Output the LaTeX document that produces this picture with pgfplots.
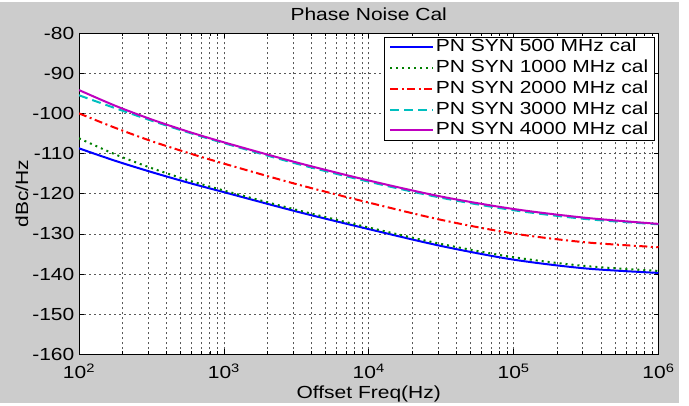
\documentclass[border=0pt]{standalone}
\usepackage{pgfplots}
\pgfplotsset{compat=1.18}
\usepackage{fontspec}
\setmainfont{Liberation Sans}[FakeStretch=1.2]
\definecolor{figgray}{gray}{0.8}
\definecolor{mgreen}{rgb}{0,0.5,0}
\definecolor{mcyan}{rgb}{0,0.75,0.75}
\definecolor{mmag}{rgb}{0.75,0,0.75}
\newcommand{\fs}{\fontsize{17.5}{20}\selectfont}
\begin{document}
\begin{tikzpicture}[font=\fs]
\path[use as bounding box,fill=white] (0,0) rectangle (689pt,406pt);
\fill[figgray] (0,3pt) rectangle (679pt,404pt);
\begin{axis}[
  at={(79pt,51.5pt)}, anchor=south west,
  scale only axis, width=579.5pt, height=321.5pt,
  xmode=log, xmin=100, xmax=1000000, ymin=-160, ymax=-80,
  axis background/.style={fill=white},
  axis line style={black, line width=0.7pt},
  xtick={100,1000,10000,100000,1000000},
  xticklabels={{10\textsuperscript{2}},{10\textsuperscript{3}},{10\textsuperscript{4}},{10\textsuperscript{5}},{10\textsuperscript{6}}},
  ytick={-160,-150,-140,-130,-120,-110,-100,-90,-80},
  yticklabels={-160,-150,-140,-130,-120,-110,-100,-90,-80},
  xtick pos=both, ytick pos=both, tick align=inside,
  major tick length=5pt, minor tick length=3pt,
  tick style={black, line width=0.6pt},
  xmajorgrids, ymajorgrids, xminorgrids,
  major grid style={black!65, line width=0.7pt, dash pattern=on 2pt off 3pt},
  minor grid style={black!65, line width=0.7pt, dash pattern=on 2pt off 3pt},
  xticklabel style={font=\fs, anchor=base, yshift=-24.5pt, inner sep=0pt},
  yticklabel style={font=\fs, anchor=east, xshift=-4.5pt, inner sep=0pt},
  title={Phase Noise Cal},
  every axis title/.style={at={(0.5,1)}, anchor=base, yshift=12pt, font=\fs},
  xlabel={Offset Freq(Hz)},
  every axis x label/.style={at={(axis description cs:0.5,0)}, anchor=base, yshift=-44pt, font=\fs},
  ylabel={dBc/Hz},
  every axis y label/.style={at={(axis description cs:-0.088,0.5)}, rotate=90, anchor=base, font=\fs},
  legend cell align=left,
  legend image code/.code={\draw[#1] (0pt,0pt) -- (43pt,0pt);},
  legend style={at={(0.994,0.9876)}, anchor=north east, draw=black, line width=0.6pt,
    fill=white, font=\fs, inner xsep=5pt, inner ysep=0.5pt, row sep=1.75pt,
    nodes={inner sep=1.5pt, text height=12.5pt, text depth=3.5pt}},
]
\addplot[blue, line width=2pt, smooth] coordinates {
(100,-108.7) (177.8,-111.8) (316.2,-114.6) (562.3,-117.2) (1000,-119.6) (3162,-124.4) (10000,-128.8) (31623,-133.0) (100000,-136.4) (316228,-138.6) (1000000,-139.7)};
\addlegendentry{PN SYN 500 MHz cal}
\addplot[mgreen, line width=2pt, dash pattern=on 2pt off 4pt, smooth] coordinates {
(100,-106.2) (177.8,-110.2) (316.2,-113.6) (562.3,-116.6) (1000,-119.2) (3162,-124.0) (10000,-128.4) (31623,-132.5) (100000,-135.8) (316228,-138.0) (1000000,-139.2)};
\addlegendentry{PN SYN 1000 MHz cal}
\addplot[red, line width=2pt, dash pattern=on 8pt off 3.5pt on 2pt off 3.5pt, smooth] coordinates {
(100,-100.0) (177.8,-103.6) (316.2,-106.9) (562.3,-109.8) (1000,-112.5) (3162,-117.6) (10000,-122.2) (31623,-126.5) (100000,-129.9) (316228,-132.1) (1000000,-133.3)};
\addlegendentry{PN SYN 2000 MHz cal}
\addplot[mcyan, line width=2pt, dash pattern=on 9pt off 5pt, smooth] coordinates {
(100,-95.5) (177.8,-98.7) (316.2,-101.8) (562.3,-104.7) (1000,-107.4) (3162,-112.5) (10000,-117.0) (31623,-121.0) (100000,-124.1) (316228,-126.3) (1000000,-127.6)};
\addlegendentry{PN SYN 3000 MHz cal}
\addplot[mmag, line width=2pt, smooth] coordinates {
(100,-94.2) (177.8,-98.1) (316.2,-101.5) (562.3,-104.5) (1000,-107.2) (3162,-112.2) (10000,-116.7) (31623,-120.7) (100000,-123.8) (316228,-126.0) (1000000,-127.5)};
\addlegendentry{PN SYN 4000 MHz cal}
\end{axis}
\end{tikzpicture}
\end{document}
